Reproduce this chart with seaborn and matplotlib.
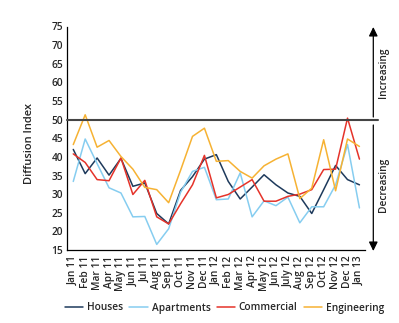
import numpy as np
import pandas as pd
import matplotlib
matplotlib.use("Agg")
import matplotlib.pyplot as plt
import seaborn as sns

months = ["Jan 11", "Feb 11", "Mar 11", "Apr 11", "May 11", "Jun 11", "Jul 11",
          "Aug 11", "Sep 11", "Oct 11", "Nov 11", "Dec 11", "Jan 12", "Feb 12",
          "Mar 12", "Apr 12", "May 12", "Jun 12", "July 12", "Aug 12", "Sep 12",
          "Oct 12", "Nov 12", "Dec 12", "Jan 13"]
houses = [42.0, 35.5, 39.7, 35.1, 39.6, 32.1, 33.0, 24.8, 22.0, 31.0, 34.7, 39.4,
          40.6, 33.4, 28.7, 31.9, 35.2, 32.5, 30.3, 29.4, 24.8, 31.2, 37.7, 33.9, 32.5]
apartments = [33.4, 44.8, 38.2, 31.7, 30.3, 23.9, 24.0, 16.5, 20.7, 30.5, 36.1, 37.2,
              28.5, 28.7, 35.7, 23.9, 28.2, 26.9, 29.2, 22.3, 26.6, 26.6, 32.5, 43.3, 26.3]
commercial = [40.8, 38.5, 33.9, 33.6, 39.7, 29.9, 33.7, 23.9, 22.0, 27.4, 32.5, 40.4,
              29.0, 29.9, 31.9, 33.9, 28.1, 28.1, 29.4, 30.0, 31.2, 36.6, 36.7, 50.4, 39.4]
engineering = [43.3, 51.3, 42.6, 44.4, 40.1, 36.7, 31.8, 31.2, 27.7, 36.4, 45.5, 47.7,
               38.8, 39.0, 36.1, 34.3, 37.6, 39.4, 40.8, 28.8, 31.6, 44.6, 30.9, 44.8, 42.8]
series_names = ["Houses", "Apartments", "Commercial", "Engineering"]
y_ticks = [15, 20, 25, 30, 35, 40, 45, 50, 55, 60, 65, 70, 75]
threshold = 50

colors = {"Houses": "#1e3a5c", "Apartments": "#86cdf0",
          "Commercial": "#e5332a", "Engineering": "#f6b233"}

frames = []
for name, vals in zip(series_names, [houses, apartments, commercial, engineering]):
    frames.append(pd.DataFrame({"idx": np.arange(len(months)), "value": vals,
                                "series": name}))
df = pd.concat(frames, ignore_index=True)

sns.set_style("white")
plt.rcParams["font.family"] = ["Open Sans", "DejaVu Sans"]
plt.rcParams["font.weight"] = "semibold"

fig = plt.figure(figsize=(3.99, 3.23), dpi=100)
ax = fig.add_axes([67.3 / 399, 1 - 250 / 323, (365.4 - 67.3) / 399, (250 - 26.5) / 323])

sns.lineplot(data=df, x="idx", y="value", hue="series", hue_order=series_names,
             palette=colors, linewidth=1.1, ax=ax, legend=False, zorder=3)

ax.set_xlim(-0.5, len(months) - 0.5)
ax.set_ylim(15, 75)
ax.set_yticks(y_ticks)
ax.set_yticklabels([str(t) for t in y_ticks], fontsize=7.3)
ax.set_xticks(np.arange(len(months)))
ax.set_xticklabels(months, rotation=90, fontsize=7.3)
ax.set_xticks(np.arange(len(months) + 1) - 0.5, minor=True)
ax.tick_params(axis="x", which="major", length=0, pad=4)
ax.tick_params(axis="x", which="minor", direction="in", length=4.5, width=0.8, color="black")
ax.tick_params(axis="y", direction="in", length=6, width=0.8, color="black", pad=3)
ax.set_xlabel("")
ax.set_ylabel("")
for s in ["top", "right"]:
    ax.spines[s].set_visible(False)
for s in ["left", "bottom"]:
    ax.spines[s].set_color("black")
    ax.spines[s].set_linewidth(0.9)

ax.axhline(threshold, xmin=0, xmax=(378 - 67.3) / (365.4 - 67.3), color="#444444",
           linewidth=1.5, clip_on=False, zorder=4)

fig.text(30 / 399, 1 - 144 / 323, "Diffusion Index", rotation=90, fontsize=8,
         ha="center", va="center")

# arrows on the right
xa = 373.3 / 399
fig.add_artist(matplotlib.patches.FancyArrowPatch(
    (xa, 1 - 117 / 323), (xa, 1 - 27 / 323), transform=fig.transFigure,
    arrowstyle="-|>,head_length=0.45,head_width=0.22", mutation_scale=12,
    color="black", linewidth=0.9, shrinkA=0, shrinkB=0))
fig.add_artist(matplotlib.patches.FancyArrowPatch(
    (xa, 1 - 125 / 323), (xa, 1 - 251 / 323), transform=fig.transFigure,
    arrowstyle="-|>,head_length=0.45,head_width=0.22", mutation_scale=12,
    color="black", linewidth=0.9, shrinkA=0, shrinkB=0))
fig.text(384 / 399, 1 - 73 / 323, "Increasing", rotation=90, fontsize=7.3,
         ha="center", va="center")
fig.text(384 / 399, 1 - 185 / 323, "Decreasing", rotation=90, fontsize=7.3,
         ha="center", va="center")

handles = [matplotlib.lines.Line2D([], [], color=colors[n], linewidth=1.1) for n in series_names]
fig.legend(handles, series_names, loc="center", ncol=4, frameon=False, fontsize=7.3,
           bbox_to_anchor=(224.5 / 399, 1 - 308 / 323), handlelength=1.8,
           handletextpad=0.4, columnspacing=0.6)

fig.savefig("out.png", dpi=100)
